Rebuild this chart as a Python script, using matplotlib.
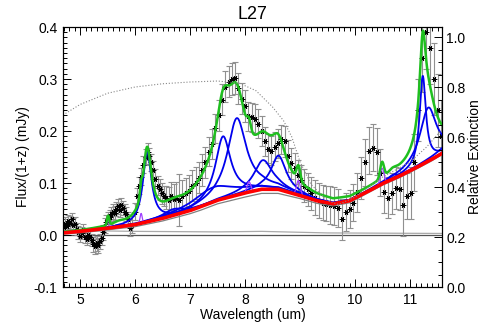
import numpy as np
import matplotlib
matplotlib.use("Agg")
import matplotlib.pyplot as plt
from matplotlib.ticker import MultipleLocator, FormatStrFormatter

plt.rcParams['font.family'] = ['Liberation Sans', 'DejaVu Sans']

# observed spectrum (rest frame)
wave = [4.70, 4.73, 4.76, 4.79, 4.82, 4.85, 4.88, 4.91, 4.94, 4.97,
        5.00, 5.03, 5.06, 5.09, 5.12, 5.15, 5.18, 5.21, 5.24, 5.27,
        5.30, 5.33, 5.36, 5.39, 5.42, 5.45, 5.48, 5.51, 5.54, 5.57,
        5.60, 5.63, 5.66, 5.69, 5.72, 5.75, 5.78, 5.81, 5.84, 5.87,
        5.91, 5.95, 5.99, 6.03, 6.07, 6.11, 6.15, 6.19, 6.23, 6.26,
        6.29, 6.33, 6.37, 6.41, 6.45, 6.49, 6.53, 6.57, 6.61, 6.65,
        6.70, 6.75, 6.80, 6.86, 6.92, 6.98, 7.04, 7.10, 7.16, 7.22,
        7.28, 7.34, 7.40, 7.46, 7.52, 7.58, 7.64, 7.70, 7.76, 7.82,
        7.88, 7.94, 8.00, 8.06, 8.12, 8.18, 8.24, 8.30, 8.36, 8.42,
        8.48, 8.54, 8.60, 8.66, 8.72, 8.78, 8.84, 8.90, 8.96, 9.02,
        9.08, 9.14, 9.20, 9.27, 9.34, 9.41, 9.48, 9.55, 9.62, 9.69,
        9.76, 9.83, 9.90, 9.97, 10.04, 10.11, 10.18, 10.25, 10.32, 10.39,
        10.46, 10.53, 10.60, 10.67, 10.74, 10.81, 10.88, 10.95, 11.02, 11.08,
        11.15, 11.22, 11.29, 11.36, 11.43, 11.50, 11.56]
flux = [0.015, 0.022, 0.018, 0.026, 0.024, 0.030, 0.020, 0.022, 0.012, 0.005,
        -0.002, 0.004, 0.010, -0.004, -0.008, 0.000, -0.003, -0.010, -0.018, -0.022,
        -0.016, -0.020, -0.012, -0.005, 0.005, 0.018, 0.025, 0.030, 0.035, 0.040,
        0.045, 0.042, 0.050, 0.055, 0.048, 0.058, 0.052, 0.045, 0.040, 0.030,
        0.014, 0.020, 0.045, 0.075, 0.095, 0.112, 0.135, 0.150, 0.160, 0.152,
        0.140, 0.125, 0.108, 0.095, 0.088, 0.080, 0.075, 0.072, 0.068, 0.075,
        0.070, 0.072, 0.068, 0.075, 0.080, 0.085, 0.095, 0.100, 0.110, 0.125,
        0.140, 0.160, 0.175, 0.205, 0.230, 0.260, 0.285, 0.295, 0.300, 0.302,
        0.282, 0.262, 0.248, 0.228, 0.226, 0.224, 0.214, 0.200, 0.180, 0.166,
        0.162, 0.170, 0.176, 0.184, 0.180, 0.152, 0.138, 0.128, 0.115, 0.105,
        0.095, 0.088, 0.080, 0.072, 0.066, 0.062, 0.060, 0.058, 0.056, 0.052,
        0.030, 0.044, 0.050, 0.062, 0.082, 0.110, 0.140, 0.162, 0.168, 0.160,
        0.120, 0.082, 0.072, 0.080, 0.090, 0.088, 0.058, 0.075, 0.080, 0.140,
        0.240, 0.340, 0.390, 0.360, 0.300, 0.240, 0.190]
err = [0.010, 0.012, 0.012, 0.012, 0.012, 0.012, 0.012, 0.012, 0.012, 0.012,
       0.012, 0.012, 0.012, 0.012, 0.012, 0.012, 0.012, 0.012, 0.014, 0.014,
       0.014, 0.014, 0.014, 0.014, 0.014, 0.014, 0.014, 0.014, 0.014, 0.014,
       0.014, 0.014, 0.014, 0.014, 0.014, 0.014, 0.014, 0.014, 0.014, 0.015,
       0.015, 0.016, 0.016, 0.016, 0.016, 0.016, 0.016, 0.016, 0.016, 0.016,
       0.016, 0.018, 0.018, 0.018, 0.020, 0.020, 0.020, 0.022, 0.024, 0.026,
       0.028, 0.030, 0.050, 0.030, 0.030, 0.030, 0.030, 0.030, 0.030, 0.030,
       0.030, 0.028, 0.028, 0.028, 0.030, 0.030, 0.030, 0.030, 0.030, 0.030,
       0.030, 0.030, 0.030, 0.028, 0.028, 0.028, 0.028, 0.028, 0.028, 0.028,
       0.028, 0.028, 0.028, 0.028, 0.030, 0.030, 0.030, 0.030, 0.030, 0.030,
       0.032, 0.032, 0.032, 0.034, 0.034, 0.034, 0.034, 0.036, 0.036, 0.036,
       0.040, 0.036, 0.036, 0.036, 0.038, 0.040, 0.045, 0.045, 0.045, 0.045,
       0.045, 0.040, 0.040, 0.040, 0.040, 0.040, 0.060, 0.045, 0.050, 0.055,
       0.060, 0.065, 0.070, 0.070, 0.070, 0.070, 0.070]

# fitted continuum (red) and its dust part (thin grey), read at knots
cont_wave = [4.69, 5.0, 5.5, 6.0, 6.5, 7.0, 7.2, 7.5, 8.0, 8.3, 8.6, 9.0, 9.3,
             9.6, 9.9, 10.2, 10.5, 10.8, 11.1, 11.4, 11.58]
cont_tot = [0.004, 0.007, 0.013, 0.020, 0.032, 0.047, 0.055, 0.067, 0.081, 0.088,
            0.088, 0.076, 0.066, 0.060, 0.066, 0.082, 0.099, 0.113, 0.129, 0.146, 0.157]
cont_dust = [0.002, 0.004, 0.010, 0.016, 0.027, 0.041, 0.048, 0.060, 0.073, 0.080,
             0.080, 0.070, 0.061, 0.056, 0.062, 0.079, 0.096, 0.110, 0.126, 0.143, 0.155]
star_wave = [4.69, 6.0, 7.5, 8.3, 9.5, 11.58]
star_flux = [0.009, 0.007, 0.006, 0.007, 0.004, 0.003]

# PAH (Drude) features: centre, fractional FWHM, peak
pah_wave = [5.70, 6.22, 6.69, 7.42, 7.60, 7.85, 8.33, 8.61, 10.68, 11.23, 11.33, 11.99]
pah_frac = [0.040, 0.030, 0.070, 0.126, 0.044, 0.053, 0.050, 0.039, 0.020, 0.012, 0.032, 0.045]
pah_peak = [0.004, 0.135, 0.012, 0.028, 0.120, 0.148, 0.056, 0.065, 0.008, 0.170, 0.103, 0.035]

# atomic / H2 lines (gaussians): centre, FWHM, peak
line_wave = [5.51, 6.11, 8.07, 8.97, 10.49]
line_fwhm = [0.045, 0.045, 0.08, 0.08, 0.08]
line_peak = [0.018, 0.019, 0.020, 0.028, 0.030]

# relative extinction (right axis)
ext_wave = [4.69, 5.0, 5.5, 6.0, 6.5, 7.0, 7.5, 7.9, 8.2, 8.5, 8.7, 8.85, 9.0,
            9.2, 9.5, 9.7, 10.0, 10.5, 11.0, 11.3, 11.58]
ext_val = [0.688, 0.73, 0.775, 0.80, 0.813, 0.82, 0.824, 0.815, 0.785, 0.72, 0.665,
           0.60, 0.50, 0.41, 0.345, 0.33, 0.36, 0.44, 0.50, 0.56, 0.63]


def drude(x, x0, frac, peak):
    return peak * frac**2 / ((x / x0 - x0 / x)**2 + frac**2)


def gauss(x, x0, fwhm, peak):
    return peak * np.exp(-4 * np.log(2) * (x - x0)**2 / fwhm**2)


x = np.linspace(4.69, 11.58, 800)
cont = np.interp(x, cont_wave, cont_tot)
total = cont.copy()

fig = plt.figure(figsize=(4.91, 3.27), dpi=100)
ax = fig.add_axes([0.1283, 0.1223, 0.7719, 0.7951])
ax2 = ax.twinx()

ax.errorbar(wave, flux, yerr=err, fmt='none', ecolor='#909090', elinewidth=0.8,
            capsize=2.5, capthick=0.8, zorder=2)
ax.plot(wave, flux, ls='none', marker=(6, 2, 90), ms=4, color='k', mew=0.55, zorder=3)

ax2.plot(ext_wave, ext_val, ls=':', color='#888888', lw=0.8)

ax.axhline(0, color='#555555', lw=0.9, zorder=1)
ax.plot(star_wave, star_flux, color='#aaaaaa', lw=0.9, zorder=1)
ax.plot(cont_wave, cont_dust, color='#808080', lw=0.9, zorder=4)

for w0, fr, pk in zip(pah_wave, pah_frac, pah_peak):
    prof = drude(x, w0, fr, pk)
    total += prof
    ax.plot(x, cont + prof, color='#0000ee', lw=1.3, zorder=5)

for w0, fw, pk in zip(line_wave, line_fwhm, line_peak):
    prof = gauss(x, w0, fw, pk)
    total += prof
    ax.plot(x, cont + prof, color='#a040ff', lw=0.9, zorder=6)

ax.plot(x, total, color='#1fbf1f', lw=1.8, zorder=7)
ax.plot(x, cont, color='#ff0000', lw=2.6, zorder=8)

ax.set_xlim(4.69, 11.58)
ax.set_ylim(-0.1, 0.4)
ax2.set_ylim(0, 1.04)

ax.xaxis.set_major_locator(MultipleLocator(1))
ax.xaxis.set_minor_locator(MultipleLocator(0.1))
ax.yaxis.set_major_locator(MultipleLocator(0.1))
ax.yaxis.set_minor_locator(MultipleLocator(0.01))
ax.yaxis.set_major_formatter(FormatStrFormatter('%.1f'))
ax2.yaxis.set_major_locator(MultipleLocator(0.2))
ax2.yaxis.set_minor_locator(MultipleLocator(0.05))
ax2.yaxis.set_major_formatter(FormatStrFormatter('%.1f'))

ax.tick_params(which='both', direction='in', top=True, right=False, labelsize=10,
               width=0.7, pad=4)
ax.tick_params(which='major', length=6)
ax.tick_params(which='minor', length=3)
ax2.tick_params(which='both', direction='in', labelsize=10, width=0.7, pad=3)
ax2.tick_params(which='major', length=6)
ax2.tick_params(which='minor', length=3)
for a in (ax, ax2):
    for s in a.spines.values():
        s.set_linewidth(0.8)

ax.set_xlabel('Wavelength (um)', fontsize=10, labelpad=1)
ax.set_ylabel('Flux/(1+z) (mJy)', fontsize=10, labelpad=3)
ax2.set_ylabel('Relative Extinction', fontsize=10, labelpad=2)
ax.set_title('L27', fontsize=13, pad=6)

fig.savefig('out.png', dpi=100)
